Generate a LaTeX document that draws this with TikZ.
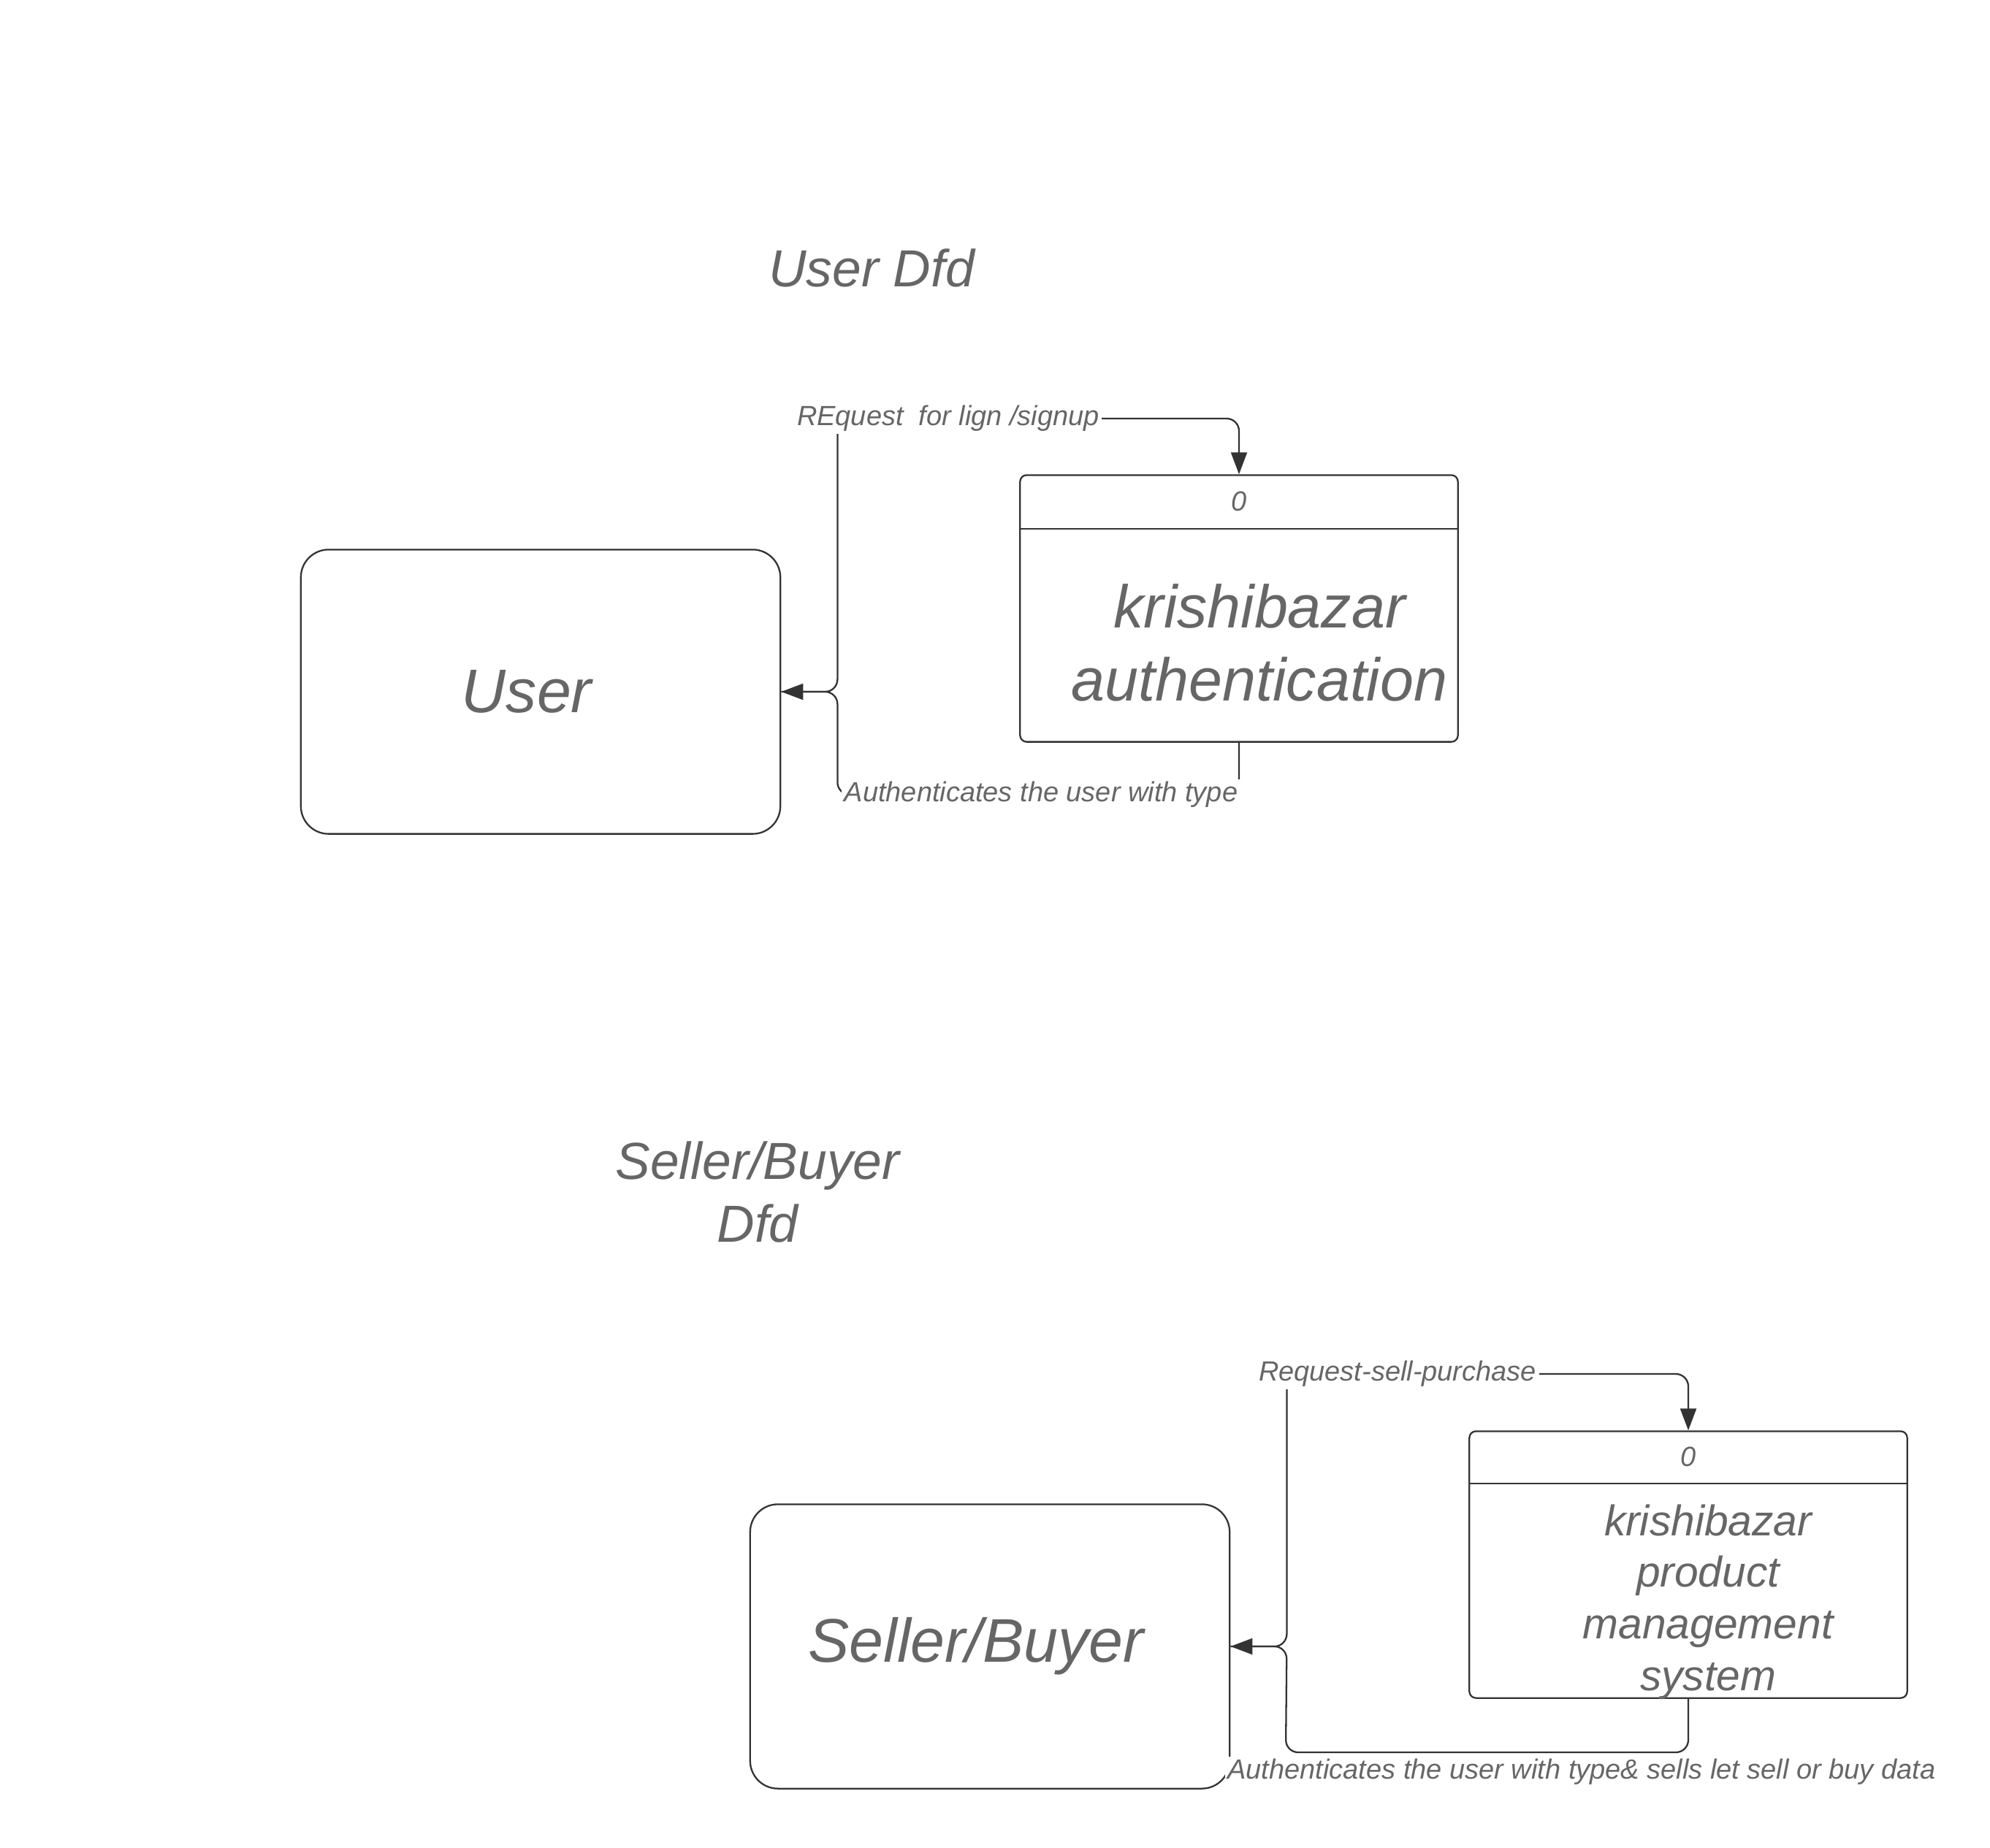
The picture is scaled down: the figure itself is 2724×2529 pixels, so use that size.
\documentclass[tikz,border=0pt]{standalone}
\usepackage{fontspec}
\setmainfont{Liberation Sans}
\usetikzlibrary{arrows.meta,backgrounds}
\definecolor{txtgray}{HTML}{666666}
\definecolor{linegray}{HTML}{333333}
\begin{document}
\begin{tikzpicture}[x=0.01cm,y=-0.01cm,
  line/.style={linegray,line width=0.65pt,rounded corners=0.17cm},
  flow/.style={line,-{Triangle[length=0.3cm,width=0.22cm]}},
  entity/.style={draw=linegray,line width=0.65pt,rounded corners=0.38cm,minimum width=6.56cm,minimum height=3.89cm},
  entitytext/.style={txtgray,font=\fontsize{24}{28.8}\selectfont\itshape},
  procbox/.style={draw=linegray,line width=0.65pt,rounded corners=0.09cm,minimum width=5.99cm,minimum height=3.65cm},
  proctext/.style={txtgray,align=center},
  title/.style={txtgray,align=center,font=\fontsize{20.3}{24.4}\selectfont\itshape},
  flowlabel/.style={txtgray,fill=white,inner sep=1pt,font=\fontsize{10.8}{13}\selectfont\itshape}]
\useasboundingbox (0,0) rectangle (2724,2529);

% user dfd
\node [title] (ttlA) at (1193,367) {User Dfd};
\node [entity] (user) at (740,947) {};
\node [entitytext] (userTxt) at ([xshift=-0.19cm]user.center) {User};
\node [procbox] (proc1) at (1696,833) {};
\draw [line,rounded corners=0pt] ([yshift=-0.75cm]proc1.north west) -- ([yshift=-0.75cm]proc1.north east);
\node [flowlabel,fill=none] (num1) at ([yshift=-0.375cm]proc1.north) {0};
\node [proctext,font=\fontsize{23.5}{28.2}\selectfont\itshape] (proc1txt) at (1724,880) {krishibazar\\authentication};
\node [flowlabel] (reqA) at (1298,573) {REquest\ \ for lign /signup};
\node [flowlabel] (authA) at (1425,1088) {Authenticates the user with type};
\coordinate (jA) at ([xshift=0.77cm]user.east);
\begin{scope}[on background layer]
\draw [flow] (user.east) -- (jA) -- (jA |- reqA) -- (proc1.north |- reqA) -- (proc1.north);
\draw [flow] (proc1.south) -- (proc1.south |- authA) -- (jA |- authA) -- (jA) -- (user.east);
\end{scope}

% seller/buyer dfd
\node [title] (ttlB) at (1037,1632) {Seller/Buyer\\Dfd};
\node [entity] (seller) at (1355,2254) {};
\node [entitytext] (sellerTxt) at ([xshift=-0.19cm]seller.center) {Seller/Buyer};
\node [procbox] (proc2) at (2311,2142) {};
\draw [line,rounded corners=0pt] ([yshift=-0.73cm]proc2.north west) -- ([yshift=-0.73cm]proc2.north east);
\node [flowlabel,fill=none] (num2) at ([yshift=-0.365cm]proc2.north) {0};
\node [proctext,font=\fontsize{16.7}{20.1}\selectfont\itshape] (proc2txt) at (2338,2193) {krishibazar\\product\\management\\system};
\node [flowlabel] (reqB) at (1913,1881) {Request-sell-purchase};
\node [flowlabel] (authB) at (2165,2426) {Authenticates the user with type\& sells let sell or buy data};
\coordinate (jB) at ([xshift=0.77cm]seller.east);
\coordinate (retB) at (1760,2399);
\begin{scope}[on background layer]
\draw [flow] (seller.east) -- (jB) -- (jB |- reqB) -- (proc2.north |- reqB) -- (proc2.north);
\draw [flow] (proc2.south) -- (proc2.south |- retB) -- (retB) -- (jB) -- (seller.east);
\end{scope}
\end{tikzpicture}
\end{document}
